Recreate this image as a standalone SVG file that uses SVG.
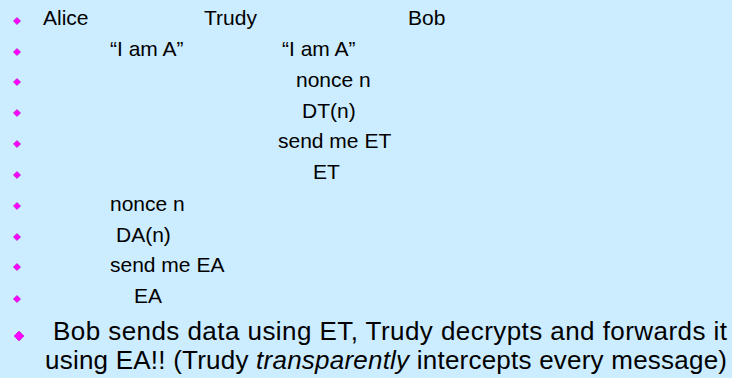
<svg xmlns="http://www.w3.org/2000/svg" width="732" height="378" viewBox="0 0 732 378">
<defs>
<style>
text{font-family:"Liberation Sans",Arial,sans-serif;fill:#000}
.s{font-size:21px}
.b{font-size:26px}
.d{fill:#FF00FF;stroke:#B000B0;stroke-width:0.5}
</style>
<polygon id="dm" points="0,-3.6 3.6,0 0,3.6 -3.6,0"/>
<polygon id="dl" points="0,-5 5,0 0,5 -5,0"/>
</defs>
<rect width="732" height="378" fill="#CCECFF"/>
<g id="bullets">
<use href="#dm" class="d" x="17" y="21"/>
<use href="#dm" class="d" x="17" y="52"/>
<use href="#dm" class="d" x="17" y="82"/>
<use href="#dm" class="d" x="17" y="113"/>
<use href="#dm" class="d" x="17" y="144"/>
<use href="#dm" class="d" x="17" y="175"/>
<use href="#dm" class="d" x="17" y="206"/>
<use href="#dm" class="d" x="17" y="237"/>
<use href="#dm" class="d" x="17" y="267"/>
<use href="#dm" class="d" x="17" y="299"/>
<use href="#dl" class="d" x="19" y="336"/>
</g>
<g id="row1"><text class="s" x="43" y="25">Alice</text><text class="s" x="204" y="25">Trudy</text><text class="s" x="408" y="25">Bob</text></g>
<g id="row2"><text class="s" x="110" y="56">“I am A”</text><text class="s" x="282" y="56">“I am A”</text></g>
<g id="row3"><text class="s" x="296" y="87">nonce n</text></g>
<g id="row4"><text class="s" x="302" y="118">DT(n)</text></g>
<g id="row5"><text class="s" x="278" y="148">send me ET</text></g>
<g id="row6"><text class="s" x="313" y="179">ET</text></g>
<g id="row7"><text class="s" x="110" y="211">nonce n</text></g>
<g id="row8"><text class="s" x="116" y="242">DA(n)</text></g>
<g id="row9"><text class="s" x="110" y="272">send me EA</text></g>
<g id="row10"><text class="s" x="134" y="303">EA</text></g>
<g id="summary">
<text class="b" x="53" y="340" textLength="674">Bob sends data using ET, Trudy decrypts and forwards it</text>
<text class="b" x="45" y="369" textLength="682">using EA!! (Trudy <tspan font-style="italic">transparently</tspan> intercepts every message)</text>
</g>
</svg>
